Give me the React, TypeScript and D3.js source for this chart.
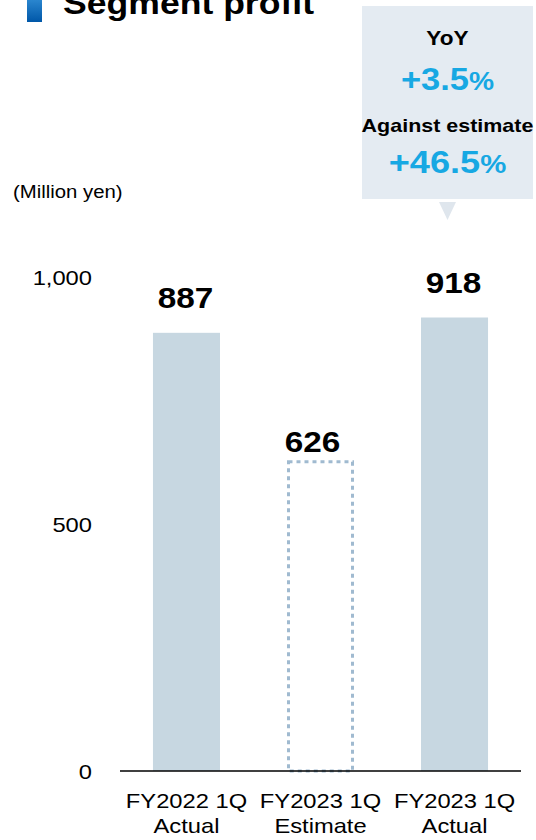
import React from "react";
import * as d3 from "d3";

const categories = ["FY2022 1Q Actual", "FY2023 1Q Estimate", "FY2023 1Q Actual"];
const categoryLine1 = ["FY2022 1Q", "FY2023 1Q", "FY2023 1Q"];
const categoryLine2 = ["Actual", "Estimate", "Actual"];
const values = [887, 626, 918];
const barKinds = ["actual", "estimate", "actual"];
const yTicks = [0, 500, 1000];
const calloutLabels = ["YoY", "Against estimate"];
const calloutValues = ["+3.5", "+46.5"];
const titleText = "Segment profit";
const unitLabel = "(Million yen)";

const W = 536;
const H = 840;
const FONT = "'Liberation Sans', Arial, Helvetica, sans-serif";
const SX = 1.13;

const BAR_FILL = "#c7d7e1";
const DASH_COLOR = "#a0bad0";
const BOX_FILL = "#e4ebf2";
const ACCENT = "#17a8e3";

const labelStyle: Record<string, { dy: number; dx: number }> = {
  actual: { dy: 25, dx: -1 },
  estimate: { dy: 10, dx: -8 },
};

function T({ x, y, size, weight = "normal", anchor = "middle", fill = "#000", children }: any) {
  return (
    <text
      transform={`translate(${x},${y}) scale(${SX},1)`}
      fontSize={size}
      fontWeight={weight}
      textAnchor={anchor}
      fill={fill}
      fontFamily={FONT}
    >
      {children}
    </text>
  );
}

export default function App() {
  const x = d3
    .scaleBand<string>()
    .domain(categories)
    .range([120, 521])
    .paddingInner(0.5)
    .paddingOuter(0.246);
  const y = d3.scaleLinear().domain([0, 1000]).range([771, 277]);
  const fmt = d3.format(",");

  const boxX = 362;
  const boxW = 171;
  const boxY = 6;
  const boxH = 193;
  const cx = boxX + boxW / 2;
  const tri = d3.path();
  tri.moveTo(cx - 8.5, 202);
  tri.lineTo(cx + 8.5, 202);
  tri.lineTo(cx, 220);
  tri.closePath();

  return (
    <svg
      width={W}
      height={H}
      style={{ position: "absolute", left: 0, top: 0, background: "#fff" }}
    >
      <defs>
        <linearGradient id="tg" x1="0" y1="0" x2="0" y2="1">
          <stop offset="0%" stopColor="#3d9be0" />
          <stop offset="100%" stopColor="#0057a8" />
        </linearGradient>
      </defs>

      {/* Title */}
      <rect x={27} y={-10} width={15} height={32} fill="url(#tg)" />
      <T x={63} y={14} size={31.5} weight="bold" anchor="start">
        {titleText}
      </T>

      {/* Callout */}
      <rect x={boxX} y={boxY} width={boxW} height={boxH} fill={BOX_FILL} />
      <path d={tri.toString()} fill="#dfe6ed" />
      <T x={cx} y={45} size={20} weight="bold">
        {calloutLabels[0]}
      </T>
      <T x={cx} y={90} size={30.5} weight="bold" fill={ACCENT}>
        {calloutValues[0]}
        <tspan fontSize={25}>%</tspan>
      </T>
      <T x={cx} y={131.5} size={19} weight="bold">
        {calloutLabels[1]}
      </T>
      <T x={cx} y={173} size={32} weight="bold" fill={ACCENT}>
        {calloutValues[1]}
        <tspan fontSize={26}>%</tspan>
      </T>

      {/* Unit */}
      <T x={13} y={198} size={18} anchor="start">
        {unitLabel}
      </T>

      {/* Y tick labels */}
      {yTicks.map((t) => (
        <T key={t} x={92} y={y(t) + 7.5} size={21} anchor="end">
          {fmt(t)}
        </T>
      ))}

      {/* Bars */}
      {categories.map((c, i) => {
        const bx = x(c)!;
        const bw = x.bandwidth();
        const top = y(values[i]);
        const h = y(0) - top;
        if (barKinds[i] === "estimate") {
          return (
            <rect
              key={c}
              x={bx + 1.5}
              y={top}
              width={bw - 3}
              height={h}
              fill="none"
              stroke={DASH_COLOR}
              strokeWidth={3}
              strokeDasharray="4 4"
            />
          );
        }
        return <rect key={c} x={bx} y={top} width={bw} height={h} fill={BAR_FILL} />;
      })}

      {/* Baseline */}
      <line x1={120} x2={521} y1={y(0)} y2={y(0)} stroke="#000" strokeWidth={1.6} />

      {/* Value labels */}
      {categories.map((c, i) => {
        const st = labelStyle[barKinds[i]];
        return (
          <T
            key={c}
            x={x(c)! + x.bandwidth() / 2 + st.dx}
            y={y(values[i]) - st.dy}
            size={29.5}
            weight="bold"
          >
            {fmt(values[i])}
          </T>
        );
      })}

      {/* Category labels */}
      {categories.map((c, i) => {
        const mx = x(c)! + x.bandwidth() / 2;
        return (
          <g key={c}>
            <T x={mx} y={808} size={21}>
              {categoryLine1[i]}
            </T>
            <T x={mx} y={833} size={21}>
              {categoryLine2[i]}
            </T>
          </g>
        );
      })}
    </svg>
  );
}
